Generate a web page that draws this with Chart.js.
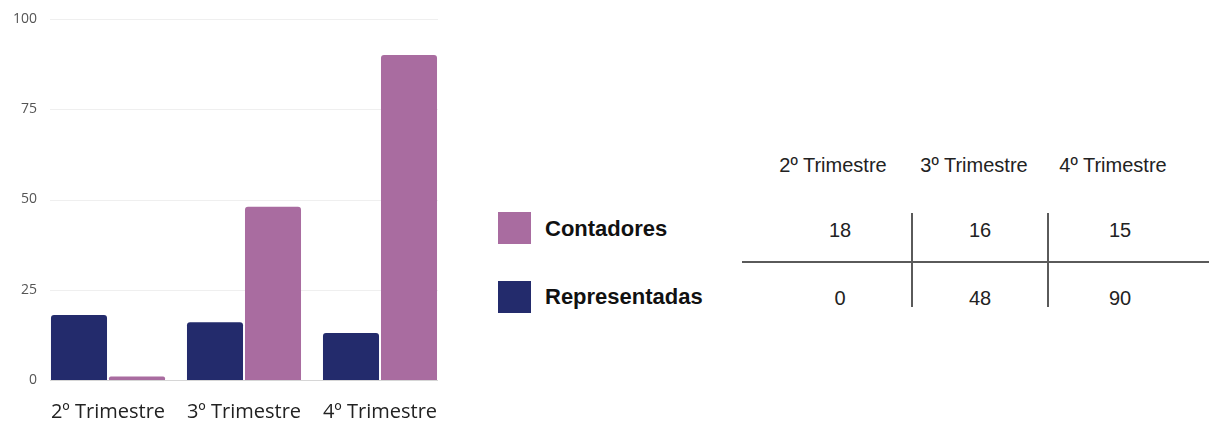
<!DOCTYPE html>
<html>
<head>
<meta charset="utf-8">
<script src="https://cdn.jsdelivr.net/npm/chart.js@4.4.1/dist/chart.umd.min.js"></script>
<style>
  html, body { margin: 0; padding: 0; background: #fff; }
  body { width: 1209px; height: 421px; position: relative; overflow: hidden; }
  #chartBox { position: absolute; left: 0; top: 0; width: 460px; height: 421px; }
  .t { position: absolute; transform: translate(-50%, -50%); white-space: nowrap; line-height: 1; font-family: "Liberation Sans", Arial, sans-serif; font-size: 20px; color: #222; }
  .lg { position: absolute; transform: translateY(-50%); white-space: nowrap; line-height: 1; font-family: "Liberation Sans", Arial, sans-serif; font-weight: bold; font-size: 22px; color: #111; }
  .sw { position: absolute; width: 33px; height: 32px; }
  .ln { position: absolute; background: #5a5a5a; }
</style>
</head>
<body>
<div id="chartBox"><canvas id="c" width="460" height="421"></canvas></div>
<div id="side"></div>
<script>
// ---- data ----
const categories = ['2º Trimestre', '3º Trimestre', '4º Trimestre'];
const representadasBars = [18, 16, 13];
const contadoresBars = [1, 48, 90];
const yTicks = [0, 25, 50, 75, 100];
const legendLabels = ['Contadores', 'Representadas'];
const contadoresTable = [18, 16, 15];
const representadasTable = [0, 48, 90];

const NAVY = '#232b6c';
const PINK = '#a96ca0';

// ---- side legend + table (HTML) ----
const side = document.getElementById('side');
function add(cls, text, styles) {
  const d = document.createElement('div');
  d.className = cls;
  if (text !== null) d.textContent = text;
  Object.assign(d.style, styles);
  side.appendChild(d);
  return d;
}
// legend
add('sw', null, { left: '498px', top: '212px', background: PINK });
add('sw', null, { left: '498px', top: '281px', background: NAVY });
add('lg', legendLabels[0], { left: '545px', top: '229px' });
add('lg', legendLabels[1], { left: '545px', top: '297px' });
// table headers
const headX = [833, 974, 1113];
const valX = [840, 980, 1120];
categories.forEach((c, i) => add('t', c, { left: headX[i] + 'px', top: '165px' }));
contadoresTable.forEach((v, i) => add('t', String(v), { left: valX[i] + 'px', top: '230px' }));
representadasTable.forEach((v, i) => add('t', String(v), { left: valX[i] + 'px', top: '298px' }));
// table lines
add('ln', null, { left: '742px', top: '261px', width: '467px', height: '1.5px' });
add('ln', null, { left: '911px', top: '213px', width: '1.5px', height: '94px' });
add('ln', null, { left: '1047px', top: '213px', width: '1.5px', height: '94px' });

// ---- chart ----
const insetGrid = {
  id: 'insetGrid',
  beforeDatasetsDraw(chart) {
    const { ctx, chartArea, scales } = chart;
    const y = scales.y;
    ctx.save();
    y.ticks.forEach(t => {
      const py = Math.round(y.getPixelForValue(t.value)) + 0.5;
      ctx.strokeStyle = t.value === 0 ? '#d6d6d6' : '#efefef';
      ctx.lineWidth = 1;
      ctx.beginPath();
      ctx.moveTo(chartArea.left + 10, py);
      ctx.lineTo(chartArea.right - 10, py);
      ctx.stroke();
    });
    ctx.restore();
  }
};

new Chart(document.getElementById('c'), {
  type: 'bar',
  data: {
    labels: categories,
    datasets: [
      { label: legendLabels[1], data: representadasBars, backgroundColor: NAVY,
        borderRadius: { topLeft: 3, topRight: 3 }, borderSkipped: 'start' },
      { label: legendLabels[0], data: contadoresBars, backgroundColor: PINK,
        borderRadius: { topLeft: 3, topRight: 3 }, borderSkipped: 'start' }
    ]
  },
  options: {
    responsive: false,
    devicePixelRatio: 1,
    animation: false,
    layout: { padding: { left: 0, right: 12, top: 19, bottom: 0 } },
    datasets: { bar: { categoryPercentage: 0.853, barPercentage: 0.966 } },
    plugins: { legend: { display: false }, tooltip: { enabled: false } },
    scales: {
      x: {
        grid: { display: false, drawTicks: false },
        border: { display: false },
        ticks: { color: '#222', padding: 20, maxRotation: 0,
                 font: { family: '"Open Sans", sans-serif', size: 20 } },
        afterFit(s) { s.height = 41; }
      },
      y: {
        min: 0, max: 100,
        afterBuildTicks(s) { s.ticks = yTicks.map(v => ({ value: v })); },
        grid: { display: false, drawTicks: false },
        border: { display: false },
        ticks: { color: '#555', padding: 3,
                 font: { family: '"Open Sans", sans-serif', size: 14 } },
        afterFit(s) { s.width = 40; }
      }
    }
  },
  plugins: [insetGrid]
});
</script>
</body>
</html>
